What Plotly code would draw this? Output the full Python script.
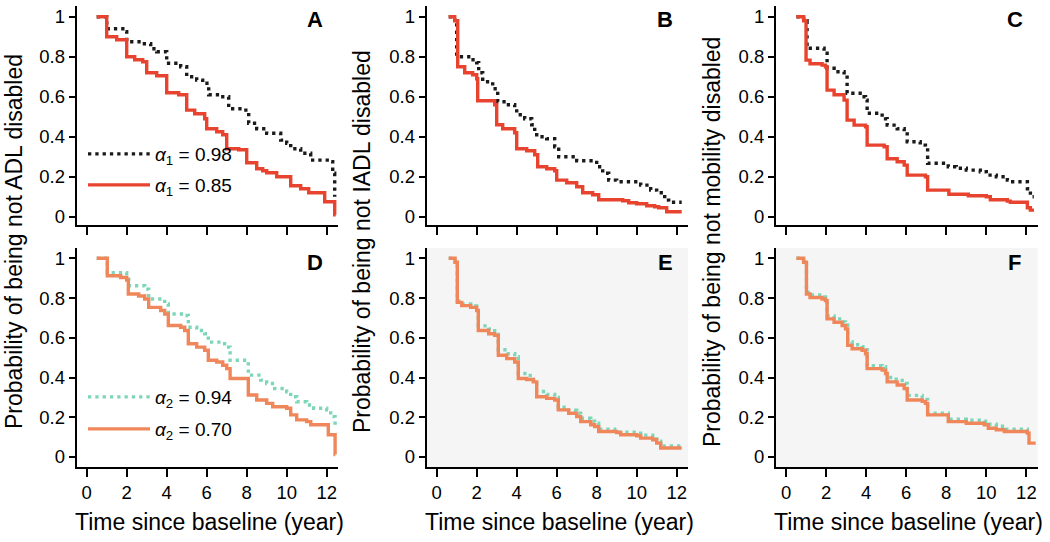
import plotly.graph_objects as go

# ---------------- data ----------------
# Panel A: ADL, alpha1
A_t_098 = [0.5, 1.0, 1.9, 2.0, 2.8, 3.2, 3.5, 4.0, 4.7, 5.0, 5.5, 5.8, 6.1, 6.7, 7.1, 7.8, 8.1, 8.5, 9.0, 9.7, 10.0, 10.2, 10.7, 11.2, 12.2, 12.3, 12.4]
A_s_098 = [1.0, 0.94, 0.925, 0.875, 0.865, 0.84, 0.825, 0.767, 0.75, 0.70, 0.683, 0.667, 0.61, 0.60, 0.54, 0.533, 0.467, 0.44, 0.417, 0.383, 0.367, 0.34, 0.317, 0.283, 0.275, 0.217, 0.10]
A_t_085 = [0.5, 1.0, 1.5, 2.0, 2.4, 2.8, 3.0, 3.5, 4.0, 4.6, 5.0, 5.4, 5.9, 6.0, 6.5, 6.8, 7.0, 7.6, 8.0, 8.5, 8.8, 9.0, 9.5, 10.2, 10.7, 11.1, 11.9, 12.4, 12.45]
A_s_085 = [1.0, 0.90, 0.885, 0.80, 0.785, 0.775, 0.72, 0.705, 0.62, 0.61, 0.533, 0.515, 0.49, 0.44, 0.425, 0.41, 0.34, 0.335, 0.27, 0.24, 0.23, 0.22, 0.20, 0.155, 0.14, 0.12, 0.075, 0.01, 0.01]

# Panel B: IADL, alpha1
B_t_098 = [0.6, 0.9, 1.0, 1.7, 2.0, 2.1, 2.3, 2.8, 3.05, 3.5, 3.9, 4.0, 4.4, 4.75, 4.9, 5.0, 5.5, 5.9, 6.1, 7.0, 8.0, 8.3, 8.6, 9.0, 10.2, 10.7, 11.0, 11.4, 11.6, 12.25]
B_s_098 = [1.0, 0.97, 0.80, 0.785, 0.77, 0.72, 0.675, 0.64, 0.575, 0.56, 0.54, 0.51, 0.49, 0.46, 0.425, 0.40, 0.39, 0.35, 0.30, 0.28, 0.25, 0.217, 0.183, 0.175, 0.158, 0.133, 0.12, 0.083, 0.072, 0.072]
B_t_085 = [0.6, 0.9, 1.05, 1.4, 1.8, 2.0, 2.05, 2.9, 3.0, 3.3, 3.9, 4.0, 4.5, 4.9, 5.05, 5.5, 5.9, 6.0, 6.5, 7.0, 7.3, 7.8, 8.1, 9.3, 9.6, 10.0, 10.5, 10.9, 11.1, 11.5, 12.25]
B_s_085 = [1.0, 0.98, 0.75, 0.72, 0.71, 0.69, 0.58, 0.56, 0.46, 0.44, 0.42, 0.34, 0.33, 0.31, 0.25, 0.24, 0.23, 0.183, 0.17, 0.15, 0.12, 0.11, 0.085, 0.08, 0.07, 0.065, 0.055, 0.05, 0.045, 0.025, 0.025]

# Panel C: mobility, alpha1
C_t_098 = [0.52, 0.88, 1.05, 1.9, 2.05, 2.4, 2.9, 3.05, 3.8, 3.97, 4.05, 4.8, 4.97, 5.05, 5.55, 5.9, 6.05, 6.7, 6.96, 7.07, 8.1, 8.5, 9.0, 9.7, 10.0, 10.5, 11.05, 11.2, 12.05, 12.2, 12.37]
C_s_098 = [1.0, 0.98, 0.842, 0.817, 0.742, 0.725, 0.708, 0.617, 0.60, 0.583, 0.517, 0.508, 0.49, 0.458, 0.44, 0.425, 0.375, 0.358, 0.35, 0.267, 0.25, 0.242, 0.233, 0.225, 0.208, 0.20, 0.183, 0.175, 0.14, 0.10, 0.10]
C_t_085 = [0.52, 0.88, 1.0, 1.2, 1.8, 1.97, 2.05, 2.4, 2.9, 3.05, 3.4, 3.97, 4.05, 4.9, 5.05, 5.55, 5.9, 6.05, 6.96, 7.07, 8.13, 9.1, 10.0, 10.2, 11.05, 11.2, 12.05, 12.2, 12.38]
C_s_085 = [1.0, 0.98, 0.783, 0.765, 0.758, 0.75, 0.633, 0.61, 0.583, 0.483, 0.458, 0.45, 0.358, 0.35, 0.29, 0.275, 0.258, 0.208, 0.20, 0.133, 0.112, 0.105, 0.10, 0.085, 0.078, 0.072, 0.045, 0.033, 0.033]

# Panel D: ADL, alpha2
D_t_094 = [0.5, 1.03, 2.0, 2.1, 2.9, 3.1, 3.9, 4.08, 4.9, 5.08, 5.5, 5.9, 6.08, 6.7, 7.0, 7.17, 8.08, 8.7, 9.0, 9.4, 10.0, 10.2, 10.5, 11.0, 11.35, 12.0, 12.2, 12.42]
D_s_094 = [1.0, 0.928, 0.91, 0.862, 0.845, 0.795, 0.77, 0.72, 0.712, 0.653, 0.637, 0.62, 0.578, 0.57, 0.553, 0.487, 0.412, 0.387, 0.37, 0.345, 0.328, 0.303, 0.278, 0.262, 0.245, 0.237, 0.203, 0.145]
D_t_070 = [0.5, 1.03, 1.7, 2.0, 2.08, 2.6, 2.9, 3.1, 3.7, 3.9, 4.08, 4.7, 4.9, 5.08, 5.5, 5.9, 6.08, 6.5, 6.8, 7.0, 7.17, 8.08, 8.5, 9.0, 9.3, 10.0, 10.2, 10.5, 11.0, 11.2, 12.08, 12.42, 12.43]
D_s_070 = [1.0, 0.912, 0.903, 0.89, 0.82, 0.81, 0.795, 0.753, 0.737, 0.72, 0.662, 0.653, 0.637, 0.57, 0.553, 0.537, 0.487, 0.478, 0.462, 0.445, 0.395, 0.312, 0.287, 0.27, 0.253, 0.245, 0.212, 0.187, 0.178, 0.162, 0.112, 0.012, 0.012]

# Panel E: IADL, alpha2
E_t_094 = [0.6, 0.92, 1.03, 1.3, 1.7, 2.0, 2.08, 2.6, 2.9, 3.08, 3.5, 3.9, 4.08, 4.5, 4.83, 5.0, 5.5, 5.9, 6.08, 6.6, 7.0, 7.2, 7.7, 7.9, 8.1, 8.9, 9.1, 10.0, 10.2, 10.8, 11.0, 11.2, 12.25]
E_s_094 = [1.0, 0.98, 0.785, 0.77, 0.76, 0.75, 0.66, 0.645, 0.635, 0.54, 0.52, 0.505, 0.42, 0.41, 0.39, 0.33, 0.315, 0.30, 0.25, 0.235, 0.22, 0.195, 0.18, 0.17, 0.14, 0.135, 0.125, 0.12, 0.11, 0.10, 0.08, 0.055, 0.055]
E_t_070 = [0.6, 0.92, 1.03, 1.25, 1.7, 2.0, 2.08, 2.6, 2.9, 3.08, 3.5, 3.9, 4.08, 4.5, 4.83, 5.0, 5.5, 5.9, 6.08, 6.6, 7.0, 7.2, 7.7, 7.9, 8.1, 9.0, 9.2, 10.0, 10.2, 10.8, 11.0, 11.2, 12.25]
E_s_070 = [1.0, 0.98, 0.778, 0.762, 0.753, 0.737, 0.637, 0.62, 0.612, 0.512, 0.495, 0.478, 0.395, 0.39, 0.378, 0.303, 0.295, 0.287, 0.237, 0.22, 0.203, 0.178, 0.162, 0.153, 0.128, 0.123, 0.112, 0.107, 0.095, 0.087, 0.07, 0.045, 0.045]

# Panel F: mobility, alpha2
F_t_094 = [0.52, 0.88, 1.02, 1.2, 1.8, 1.97, 2.05, 2.4, 2.8, 2.97, 3.08, 3.3, 3.8, 3.97, 4.05, 4.8, 4.97, 5.05, 5.5, 5.9, 6.05, 6.8, 6.96, 7.07, 8.1, 9.0, 9.9, 10.1, 10.5, 10.9, 12.05]
F_s_094 = [1.0, 0.98, 0.83, 0.815, 0.805, 0.795, 0.71, 0.695, 0.68, 0.665, 0.58, 0.565, 0.555, 0.54, 0.46, 0.455, 0.44, 0.40, 0.385, 0.37, 0.31, 0.30, 0.29, 0.22, 0.19, 0.185, 0.18, 0.165, 0.155, 0.14, 0.135]
F_t_070 = [0.52, 0.88, 1.02, 1.2, 1.8, 1.97, 2.05, 2.4, 2.8, 2.97, 3.08, 3.3, 3.8, 3.97, 4.05, 4.8, 4.97, 5.05, 5.55, 5.9, 6.05, 6.8, 6.96, 7.07, 8.1, 9.0, 9.9, 10.1, 10.5, 10.9, 12.05, 12.13, 12.38]
F_s_070 = [1.0, 0.98, 0.82, 0.803, 0.795, 0.787, 0.695, 0.678, 0.662, 0.645, 0.562, 0.545, 0.537, 0.52, 0.445, 0.437, 0.42, 0.378, 0.362, 0.345, 0.287, 0.28, 0.27, 0.212, 0.178, 0.17, 0.162, 0.145, 0.137, 0.128, 0.12, 0.07, 0.062]

panel_letters = ["A", "B", "C", "D", "E", "F"]
y_titles = ["Probability of being not ADL disabled",
            "Probability of being not IADL disabled",
            "Probability of being not mobility disabled"]
x_title = "Time since baseline (year)"
x_ticks = [0, 2, 4, 6, 8, 10, 12]
y_ticks = [0, 0.2, 0.4, 0.6, 0.8, 1]
y_ticktext = ["0", "0.2", "0.4", "0.6", "0.8", "1"]
legend_alpha1 = ["<i>α</i><sub>1</sub> = 0.98", "<i>α</i><sub>1</sub> = 0.85"]
legend_alpha2 = ["<i>α</i><sub>2</sub> = 0.94", "<i>α</i><sub>2</sub> = 0.70"]

# ---------------- styling ----------------
W, H = 1050, 542
BLACK = "#1a1a1a"
RED = "#E8432E"
TEAL = "#7ED6B9"
ORANGE = "#EF875B"
BG_GREY = "#F5F5F5"
FONT = "Liberation Sans, Arial, Helvetica, sans-serif"
DOT = "3.3px,4px"
LW = 3.4

# layout positions in screenshot pixels
col_px = [(76.7, 338.0), (426.7, 688.0), (776.0, 1037.7)]
row_px = [(6.0, 225.0), (248.0, 467.0)]        # panel top / bottom (pixels from top)
row_zero_px = [216.7, 457.0]                   # pixel of y = 0
row_unit_px = [200.0, 198.7]                   # pixels per unit of y


def px_x(x):
    return x / W


def px_y(y):
    return 1 - y / H


def xdom(c):
    a, b = col_px[c]
    return [px_x(a), px_x(b)]


def ydom(r):
    a, b = row_px[r]
    return [px_y(b), px_y(a)]


def yrange(r):
    a, b = row_px[r]
    z, u = row_zero_px[r], row_unit_px[r]
    return [(z - b) / u, (z - a) / u]


fig = go.Figure()

series = [
    # (panel index, t, s, color, dash, name, legend id)
    (0, A_t_098, A_s_098, BLACK, DOT, legend_alpha1[0], "legend"),
    (0, A_t_085, A_s_085, RED, "solid", legend_alpha1[1], "legend2"),
    (1, B_t_098, B_s_098, BLACK, DOT, None, None),
    (1, B_t_085, B_s_085, RED, "solid", None, None),
    (2, C_t_098, C_s_098, BLACK, DOT, None, None),
    (2, C_t_085, C_s_085, RED, "solid", None, None),
    (3, D_t_094, D_s_094, TEAL, DOT, legend_alpha2[0], "legend3"),
    (3, D_t_070, D_s_070, ORANGE, "solid", legend_alpha2[1], "legend4"),
    (4, E_t_094, E_s_094, TEAL, DOT, None, None),
    (4, E_t_070, E_s_070, ORANGE, "solid", None, None),
    (5, F_t_094, F_s_094, TEAL, DOT, None, None),
    (5, F_t_070, F_s_070, ORANGE, "solid", None, None),
]

for p, t, s, col, dash, name, leg in series:
    suffix = "" if p == 0 else str(p + 1)
    kw = dict(x=t, y=s, mode="lines", line=dict(color=col, width=LW, dash=dash, shape="hv"),
              xaxis="x" + suffix, yaxis="y" + suffix, hoverinfo="skip", cliponaxis=False)
    if name is not None:
        kw.update(name=name, showlegend=True, legend=leg)
    else:
        kw.update(showlegend=False)
    fig.add_trace(go.Scatter(**kw))

layout = dict(
    width=W, height=H, template="none",
    margin=dict(l=0, r=0, t=0, b=0),
    paper_bgcolor="white", plot_bgcolor="rgba(0,0,0,0)",
    font=dict(family=FONT, size=18, color="black"),
)

for p in range(6):
    r, c = divmod(p, 3)
    suffix = "" if p == 0 else str(p + 1)
    layout["xaxis" + suffix] = dict(
        domain=xdom(c), anchor="y" + suffix, range=[-0.5, 12.565],
        tickmode="array", tickvals=x_ticks, ticktext=[str(v) for v in x_ticks],
        showticklabels=(r == 1), ticks="outside", ticklen=8, tickwidth=2, tickcolor="black",
        showline=True, linewidth=2, linecolor="black", showgrid=False, zeroline=False,
        tickfont=dict(size=18.5), automargin=False, fixedrange=True,
    )
    layout["yaxis" + suffix] = dict(
        domain=ydom(r), anchor="x" + suffix, range=yrange(r),
        tickmode="array", tickvals=y_ticks, ticktext=y_ticktext,
        ticks="outside", ticklen=6, tickwidth=2, tickcolor="black",
        showline=True, linewidth=2, linecolor="black", showgrid=False, zeroline=False,
        tickfont=dict(size=18.5), automargin=False, fixedrange=True,
    )

leg_common = dict(bgcolor="rgba(0,0,0,0)", borderwidth=0, font=dict(size=19, family=FONT),
                  xanchor="left", yanchor="middle", itemwidth=62, tracegroupgap=0)
layout["legend"] = dict(x=px_x(83), y=px_y(154), **leg_common)
layout["legend2"] = dict(x=px_x(83), y=px_y(185), **leg_common)
layout["legend3"] = dict(x=px_x(83), y=px_y(397), **leg_common)
layout["legend4"] = dict(x=px_x(83), y=px_y(429), **leg_common)

fig.update_layout(**layout)

# grey background for panels E and F
for p in (4, 5):
    suffix = str(p + 1)
    fig.add_shape(type="rect", xref="x" + suffix + " domain", yref="y" + suffix + " domain",
                  x0=0, x1=1, y0=0, y1=1, fillcolor=BG_GREY, line=dict(width=0), layer="below")

# panel letters
for p, letter in enumerate(panel_letters):
    r, c = divmod(p, 3)
    a, b = col_px[c]
    fig.add_annotation(text="<b>" + letter + "</b>", xref="paper", yref="paper",
                       x=px_x(a + 0.913 * (b - a)), y=px_y(20 if r == 0 else 262),
                       showarrow=False, xanchor="center", yanchor="middle",
                       font=dict(size=22, family=FONT))

# y titles (one per column, spanning both rows)
ytitle_x = [14, 362, 712]
for c in range(3):
    fig.add_annotation(text=y_titles[c], xref="paper", yref="paper", x=px_x(ytitle_x[c]),
                       y=px_y(242), textangle=-90, showarrow=False, xanchor="center",
                       yanchor="middle", font=dict(size=23, family=FONT))

# x titles
for c in range(3):
    a, b = col_px[c]
    fig.add_annotation(text=x_title, xref="paper", yref="paper", x=px_x((a + b) / 2 + 2),
                       y=px_y(522), showarrow=False, xanchor="center", yanchor="middle",
                       font=dict(size=23, family=FONT))

# the page body has a default 8px margin; remove it so the figure fills the window exactly
fig.write_html("out.html", config={"displayModeBar": False},
               post_script="document.body.style.margin='0';")
